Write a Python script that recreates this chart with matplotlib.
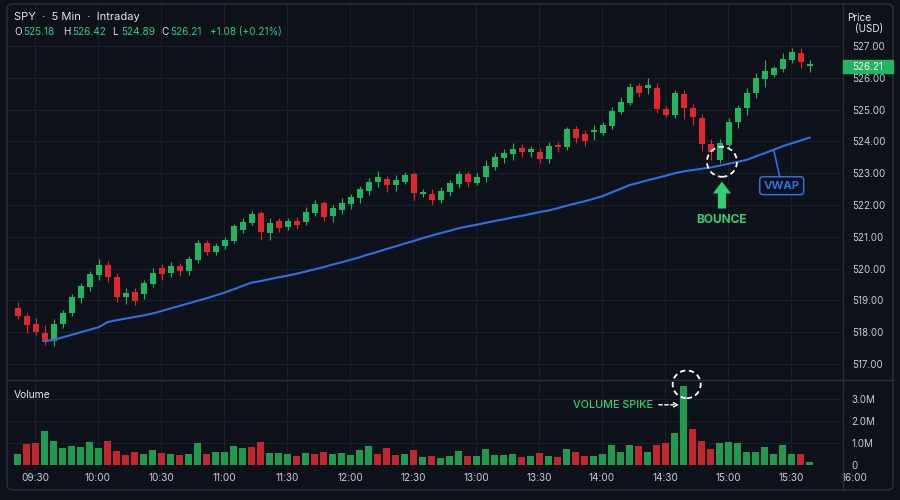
import numpy as np
import matplotlib.pyplot as plt
from matplotlib.patches import Ellipse, FancyArrow, FancyBboxPatch, Rectangle
from matplotlib.transforms import blended_transform_factory

plt.rcParams['font.family'] = ['Inter', 'DejaVu Sans']

# ---------------- data ----------------
opens = [518.77, 518.51, 518.25, 517.98, 517.72, 518.25, 518.59, 519.09, 519.43, 519.80,
         520.11, 519.75, 519.12, 519.26, 519.19, 519.52, 520.03, 519.85, 520.08, 519.93,
         520.27, 520.80, 520.53, 520.71, 520.88, 521.21, 521.44, 521.74, 521.12, 521.51,
         521.30, 521.51, 521.48, 521.74, 522.05, 521.65, 521.84, 522.03, 522.21, 522.45,
         522.71, 522.81, 522.63, 522.73, 522.97, 522.35, 522.35, 522.16, 522.40, 522.65,
         522.97, 522.70, 522.87, 523.20, 523.47, 523.60, 523.78, 523.66, 523.68, 523.44,
         523.89, 523.83, 524.38, 524.22, 524.29, 524.27, 524.48, 524.93, 525.22, 525.75,
         525.67, 525.67, 525.01, 524.83, 525.49, 525.04, 524.75, 523.92, 523.42, 523.89,
         524.62, 525.04, 525.51, 525.95, 526.09, 526.27, 526.56, 526.79, 526.37]
highs = [518.96, 518.60, 518.44, 518.23, 518.41, 518.70, 519.19, 519.56, 519.93, 520.29,
         520.25, 519.87, 519.38, 519.38, 519.64, 520.01, 520.14, 520.22, 520.17, 520.40,
         520.90, 520.90, 520.81, 521.00, 521.40, 521.58, 521.82, 521.80, 521.59, 521.60,
         521.60, 521.63, 521.95, 522.16, 522.13, 522.00, 522.21, 522.35, 522.60, 522.84,
         523.08, 522.91, 522.94, 523.05, 523.05, 522.52, 522.49, 522.56, 522.79, 523.08,
         523.08, 523.00, 523.42, 523.64, 523.75, 523.94, 523.92, 523.85, 523.78, 523.99,
         523.99, 524.44, 524.48, 524.36, 524.52, 524.62, 525.07, 525.41, 525.83, 525.85,
         525.98, 525.83, 525.11, 525.62, 525.62, 525.18, 524.86, 524.07, 524.07, 524.73,
         525.14, 525.67, 526.14, 526.56, 526.37, 526.77, 526.93, 526.93, 526.56]
lows = [518.41, 517.98, 517.91, 517.60, 517.56, 518.14, 518.51, 518.93, 519.30, 519.64,
        519.57, 518.96, 518.89, 518.85, 519.03, 519.41, 519.64, 519.75, 519.78, 519.80,
        520.17, 520.43, 520.43, 520.63, 520.80, 521.13, 521.37, 520.90, 520.90, 521.15,
        521.20, 521.24, 521.37, 521.65, 521.51, 521.48, 521.72, 521.86, 522.07, 522.31,
        522.58, 522.42, 522.45, 522.66, 522.16, 522.26, 522.00, 522.05, 522.28, 522.53,
        522.56, 522.63, 522.73, 523.10, 523.31, 523.42, 523.50, 523.50, 523.33, 523.33,
        523.68, 523.73, 523.96, 523.86, 524.04, 524.20, 524.38, 524.86, 525.14, 525.41,
        525.49, 524.90, 524.76, 524.73, 524.70, 524.52, 523.71, 523.42, 523.31, 523.83,
        524.41, 524.83, 525.36, 525.72, 526.03, 526.19, 526.48, 526.30, 526.19]
closes = [518.51, 518.23, 518.00, 517.70, 518.25, 518.61, 519.10, 519.45, 519.83, 520.11,
          519.73, 519.12, 519.24, 518.99, 519.54, 519.87, 519.83, 520.09, 519.93, 520.29,
          520.80, 520.53, 520.71, 520.90, 521.34, 521.47, 521.72, 521.16, 521.43, 521.27,
          521.51, 521.37, 521.79, 522.03, 521.63, 521.90, 522.07, 522.26, 522.49, 522.73,
          522.89, 522.63, 522.79, 522.94, 522.37, 522.42, 522.16, 522.44, 522.68, 522.97,
          522.71, 522.89, 523.23, 523.52, 523.63, 523.75, 523.68, 523.75, 523.44, 523.86,
          523.81, 524.38, 524.10, 524.02, 524.36, 524.52, 524.97, 525.25, 525.70, 525.53,
          525.77, 525.01, 524.83, 525.51, 525.04, 524.76, 523.91, 523.68, 523.94, 524.62,
          525.04, 525.53, 525.98, 526.22, 526.30, 526.58, 526.82, 526.51, 526.42]
# volume in millions
volume = [0.50, 0.94, 0.98, 1.56, 1.09, 0.76, 0.86, 0.83, 1.05, 0.76,
          1.11, 0.65, 0.45, 0.58, 0.50, 0.68, 0.56, 0.48, 0.45, 0.52,
          0.98, 0.52, 0.58, 0.61, 0.88, 0.76, 0.80, 1.03, 0.56, 0.56,
          0.50, 0.42, 0.56, 0.48, 0.58, 0.50, 0.56, 0.45, 0.68, 0.88,
          0.48, 0.77, 0.44, 0.52, 0.67, 0.38, 0.42, 0.31, 0.40, 0.62,
          0.41, 0.43, 0.74, 0.47, 0.47, 0.49, 0.37, 0.40, 0.55, 0.39,
          0.36, 0.74, 0.58, 0.43, 0.40, 0.50, 0.92, 0.58, 0.92, 0.87,
          0.58, 0.93, 0.99, 1.47, 3.59, 1.63, 1.11, 0.73, 1.02, 1.04,
          0.99, 0.59, 0.61, 0.80, 0.49, 0.89, 0.52, 0.50, 0.16]
# 1 = buying (green) bar, 0 = selling (red) bar
vol_up = [1, 0, 0, 1, 1, 1, 1, 1, 1, 1, 0, 0, 0, 0, 1, 1, 0, 1, 0, 1,
          1, 0, 1, 1, 1, 1, 0, 0, 1, 1, 1, 0, 1, 0, 0, 1, 1, 1, 1, 1,
          0, 0, 0, 1, 0, 1, 0, 1, 1, 1, 0, 1, 1, 1, 1, 1, 0, 1, 0, 1,
          0, 1, 0, 0, 1, 1, 1, 1, 1, 0, 1, 0, 0, 1, 1, 0, 0, 0, 1, 1,
          1, 1, 1, 1, 1, 1, 1, 0, 1]
nan = np.nan
vwap = [nan, nan, nan, 517.72, 517.76, 517.84, 517.92, 518.00, 518.08, 518.16,
        518.32, 518.38, 518.43, 518.48, 518.53, 518.59, 518.67, 518.75, 518.83, 518.91,
        518.99, 519.07, 519.16, 519.25, 519.35, 519.46, 519.56, 519.61, 519.67, 519.73,
        519.78, 519.84, 519.91, 519.98, 520.05, 520.13, 520.20, 520.28, 520.36, 520.45,
        520.53, 520.62, 520.70, 520.79, 520.87, 520.96, 521.04, 521.12, 521.19, 521.27,
        521.33, 521.38, 521.44, 521.50, 521.55, 521.61, 521.66, 521.72, 521.78, 521.83,
        521.90, 521.98, 522.05, 522.12, 522.20, 522.28, 522.40, 522.51, 522.63, 522.70,
        522.78, 522.85, 522.92, 523.00, 523.06, 523.10, 523.14, 523.18, 523.24, 523.30,
        523.36, 523.42, 523.53, 523.63, 523.74, 523.85, 523.94, 524.03, 524.12]
time_labels = ['09:30', '10:00', '10:30', '11:00', '11:30', '12:00', '12:30',
               '13:00', '13:30', '14:00', '14:30', '15:00', '15:30', '16:00']
price_ticks = [517, 518, 519, 520, 521, 522, 523, 524, 525, 526, 527]
vol_ticks = [0, 1, 2, 3]
vol_tick_labels = ['0', '1.0M', '2.0M', '3.0M']
ohlc_names = ['O', 'H', 'L', 'C']
ohlc_values = ['525.18', '526.42', '524.89', '526.21']
change_text = '+1.08 (+0.21%)'
last_price = '526.21'
bounce_i = 78

# ---------------- style ----------------
bg = '#0d1119'
grid_c = '#1a1f29'
border_c = '#2a303b'
up_c = '#22b45f'
dn_c = '#e2262d'
vup_c = '#1f9a4e'
vdn_c = '#c3262c'
blue = '#2f6fe0'
txt = '#c9cdd4'
hl_green = '#2fcf74'

W, H = 900, 500
def fx(x): return x / W
def fy(y): return 1 - y / H

fig = plt.figure(figsize=(9, 5), dpi=100, facecolor=bg)

x = np.arange(len(opens))
o = np.array(opens); c = np.array(closes)
hi = np.array(highs); lo = np.array(lows)
up = c >= o
tick_x = 1.92 + 7 * np.arange(len(time_labels))

# price panel
ax = fig.add_axes([fx(7), fy(379), fx(843) - fx(7), fy(5) - fy(379)])
ax.set_facecolor(bg)
ax.set_xlim(-1.19, 91.7)
ax.set_ylim(516.53, 528.29)
for p in price_ticks:
    ax.axhline(p, color=grid_c, lw=0.8, zorder=0)
for t in tick_x[:-1]:
    ax.axvline(t, color=grid_c, lw=0.8, zorder=0)

cols = np.where(up, up_c, dn_c)
ax.vlines(x, lo, hi, colors=cols, lw=0.8, zorder=2)
body = np.maximum(np.abs(c - o), 0.035)
ax.bar(x, body, bottom=np.minimum(o, c), width=0.66, color=cols, zorder=3)
ax.plot(x, vwap, color=blue, lw=1.5, zorder=4)

ax.set_yticks(price_ticks)
ax.set_yticklabels([f'{p:.2f}' for p in price_ticks])
ax.yaxis.tick_right()
ax.tick_params(axis='y', length=0, pad=6.3, labelsize=7, labelcolor=txt)
ax.set_xticks([])
for s in ax.spines.values():
    s.set_visible(False)

# bounce annotation
ax.add_patch(Ellipse((bounce_i + 0.25, lo[bounce_i] + 0.05), 30 / 9, 30 / 31.8,
                     fill=False, ec='white', lw=1.3, ls=(0, (3, 2)), zorder=6))
ax.add_patch(FancyArrow(bounce_i + 0.25, lo[bounce_i] - 1.42, 0, 0.85, width=8 / 9,
                        head_width=18 / 9, head_length=12 / 31.8,
                        length_includes_head=True, fc=hl_green, ec='none', zorder=6))
ax.annotate('BOUNCE', xy=(bounce_i, lo[bounce_i]), xytext=(2, -57),
            textcoords='offset pixels', ha='center', va='center',
            color=hl_green, fontsize=8.6, fontweight='bold')
ax.annotate('VWAP', xy=(84, vwap[84]), xytext=(8, -36), textcoords='offset pixels',
            ha='center', va='center', color=blue, fontsize=8.2, fontweight='bold',
            bbox=dict(boxstyle='round,pad=0.35,rounding_size=0.3', fc=bg, ec=blue, lw=1.1),
            arrowprops=dict(arrowstyle='-', color=blue, lw=1.2, shrinkA=0, shrinkB=0))

# volume panel
av = fig.add_axes([fx(7), fy(470), fx(843) - fx(7), fy(381) - fy(470)])
av.set_facecolor(bg)
av.set_xlim(ax.get_xlim())
av.set_ylim(-0.224, 3.81)
for v in vol_ticks[1:]:
    av.axhline(v, color=grid_c, lw=0.7, zorder=0)
for t in tick_x[:-1]:
    av.axvline(t, color=grid_c, lw=0.8, zorder=0)
av.bar(x, volume, width=0.76, color=[vup_c if u else vdn_c for u in vol_up], zorder=2)
av.set_yticks(vol_ticks)
av.set_yticklabels(vol_tick_labels)
av.yaxis.tick_right()
av.tick_params(axis='y', length=0, pad=6.3, labelsize=7, labelcolor=txt)
av.set_xticks([])
for s in av.spines.values():
    s.set_visible(False)
tr = blended_transform_factory(av.transData, av.transAxes)
for t, lab in zip(tick_x, time_labels):
    av.text(t, -0.09, lab, transform=tr, ha='center', va='center',
            fontsize=7.2, color=txt, clip_on=False)
av.text(0.008, 0.81, 'Volume', transform=av.transAxes, fontsize=7.4, color='#e6e8ec')

spike_i = int(np.argmax(volume))
av.add_patch(Ellipse((spike_i + 0.33, volume[spike_i] + 0.07), 28 / 9, 28 / 22.3,
                     fill=False, ec='white', lw=1.3, ls=(0, (3, 2)), zorder=6, clip_on=False))
av.annotate('VOLUME SPIKE', xy=(spike_i - 0.5, 2.73), xytext=(-26, 0),
            textcoords='offset pixels', ha='right', va='center', color=hl_green,
            fontsize=7.8, fontweight='medium',
            arrowprops=dict(arrowstyle='->', color='white', lw=1, ls=(0, (2.5, 1.8)),
                            shrinkA=2, shrinkB=0))

# frame, separators, header
fig.add_artist(FancyBboxPatch((fx(7), fy(490)), fx(893) - fx(7), fy(4) - fy(490),
                              boxstyle='round,pad=0,rounding_size=0.008',
                              transform=fig.transFigure, fill=False, ec=border_c, lw=1))
fig.add_artist(plt.Line2D([fx(7), fx(893)], [fy(379.5), fy(379.5)], color=border_c, lw=1))
fig.add_artist(plt.Line2D([fx(843), fx(843)], [fy(4), fy(490)], color=border_c, lw=1))

fig.add_artist(Rectangle((fx(843), fy(73)), fx(893) - fx(843), fy(60) - fy(73),
                         transform=fig.transFigure, color=up_c, zorder=10))
fig.text(fx(867.5), fy(66.5), last_price, ha='center', va='center', fontsize=7,
         color='white', zorder=11)
fig.text(fx(847), fy(18), 'Price', ha='left', va='center', fontsize=7.2, color='#e6e8ec')
fig.text(fx(855), fy(29), '(USD)', ha='left', va='center', fontsize=7.2, color='#e6e8ec')

fig.text(fx(14), fy(16.5), 'SPY  ·  5 Min  ·  Intraday', ha='left', va='center',
         fontsize=8, color='#e6e8ec')
for nx, name, val in zip([14, 63, 112, 161], ohlc_names, ohlc_values):
    fig.text(fx(nx), fy(32), name, ha='left', va='center', fontsize=7.2, color='#d6d9de')
    fig.text(fx(nx + 9.5), fy(32), val, ha='left', va='center', fontsize=7.2, color=hl_green)
fig.text(fx(210), fy(32), change_text, ha='left', va='center', fontsize=7.2, color=hl_green)

fig.savefig('out.png', dpi=100, facecolor=bg)
